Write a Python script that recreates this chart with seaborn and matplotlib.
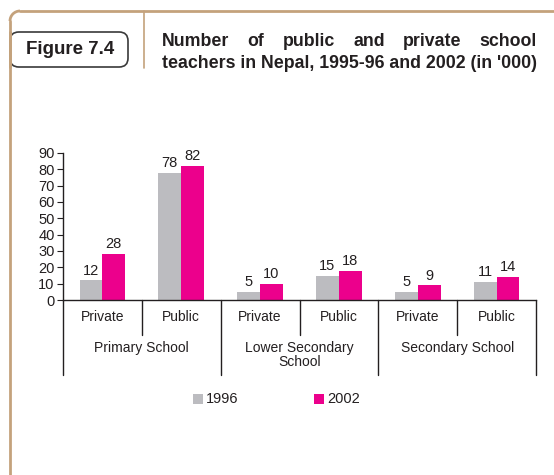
import matplotlib
matplotlib.use("Agg")
import matplotlib.pyplot as plt
from matplotlib.patches import FancyBboxPatch, Rectangle, Arc
from matplotlib.lines import Line2D
from matplotlib import font_manager
import matplotlib.transforms as mtransforms
import seaborn as sns
import pandas as pd

# --- data (teachers, thousands) ---
school_levels = ["Primary School", "Lower Secondary\nSchool", "Secondary School"]
sectors = ["Private", "Public"]
years = ["1996", "2002"]
teachers_1996 = [12, 78, 5, 15, 5, 11]
teachers_2002 = [28, 82, 10, 18, 9, 14]
y_ticks = [0, 10, 20, 30, 40, 50, 60, 70, 80, 90]

categories = [f"{lvl}|{sec}" for lvl in school_levels for sec in sectors]
df = pd.DataFrame({
    "category": categories * 2,
    "year": [years[0]] * 6 + [years[1]] * 6,
    "teachers": teachers_1996 + teachers_2002,
})

GRAY = "#bcbcc0"
PINK = "#ec008c"
TAN = "#c4a27c"
INK = "#231f20"

names = {f.name for f in font_manager.fontManager.ttflist}
NARROW = "Liberation Sans Narrow" if "Liberation Sans Narrow" in names else "Liberation Sans"

sns.set_theme(style="white")
plt.rcParams["font.family"] = [NARROW, "DejaVu Sans"]

W, H = 554, 475
fig = plt.figure(figsize=(W / 100, H / 100), dpi=100)
fig.patch.set_facecolor("white")

def fx(px):
    return px / W

def fy(py):
    return 1 - py / H

# plot area
ax_left, ax_right, ax_top, ax_bottom = 63, 536, 153, 300
ax = fig.add_axes([fx(ax_left), fy(ax_bottom), fx(ax_right - ax_left), (ax_bottom - ax_top) / H])

sns.barplot(data=df, x="category", y="teachers", hue="year", order=categories,
            hue_order=years, palette=[GRAY, PINK], width=0.58, saturation=1,
            edgecolor="none", linewidth=0, ax=ax, legend=False)

ax.set_xlim(-0.5, 5.5)
ax.set_ylim(0, 90)
ax.set_yticks(y_ticks)
ax.set_yticklabels([str(t) for t in y_ticks], fontsize=10.5, color=INK)
ax.set_xticks([])
ax.set_xlabel("")
ax.set_ylabel("")
ax.tick_params(axis="y", direction="out", length=4, width=0.8, color=INK, pad=2, left=True)
for side in ["top", "right"]:
    ax.spines[side].set_visible(False)
for side in ["left", "bottom"]:
    ax.spines[side].set_color(INK)
    ax.spines[side].set_linewidth(1.0)

for cont in ax.containers:
    ax.bar_label(cont, fmt="%d", padding=2, fontsize=10.5, color=INK)

# category axis below the bars
trans = mtransforms.blended_transform_factory(ax.transData, fig.transFigure)
for i, cat in enumerate(categories):
    ax.text(i, fy(317), cat.split("|")[1], transform=trans, ha="center", va="center",
            fontsize=10, color=INK)
for g, lvl in enumerate(school_levels):
    ax.text(2 * g + 0.5, fy(348) if "\n" not in lvl else fy(355), lvl, transform=trans,
            ha="center", va="center", fontsize=10, color=INK, linespacing=0.95)

line_kw = dict(transform=trans, color=INK, linewidth=1.0, clip_on=False)
for xd in [0.5, 2.5, 4.5]:
    ax.add_line(Line2D([xd, xd], [fy(300), fy(335)], **line_kw))
for xd in [-0.5, 1.5, 3.5, 5.5]:
    ax.add_line(Line2D([xd, xd], [fy(300), fy(375)], **line_kw))

# legend
for (px, col, lab) in [(193, GRAY, years[0]), (314, PINK, years[1])]:
    fig.patches.append(Rectangle((fx(px), fy(404)), fx(10), 10 / H, transform=fig.transFigure,
                                 facecolor=col, edgecolor="none"))
    fig.text(fx(px + 13), fy(399), lab, ha="left", va="center", fontsize=10.5, color=INK)

# frame and header
r = 10
fig.add_artist(Line2D([fx(10), fx(10)], [fy(475), fy(11 + r)], transform=fig.transFigure,
                      color=TAN, linewidth=2))
fig.add_artist(Line2D([fx(10 + r), fx(554)], [fy(11), fy(11)], transform=fig.transFigure,
                      color=TAN, linewidth=2))
fig.add_artist(Arc((fx(10 + r), fy(11 + r)), fx(2 * r), 2 * r / H, theta1=90, theta2=180,
                   transform=fig.transFigure, color=TAN, linewidth=2))
fig.add_artist(Line2D([fx(144), fx(144)], [fy(11), fy(68)], transform=fig.transFigure,
                      color=TAN, linewidth=1.2))

fig.add_artist(FancyBboxPatch((fx(10), fy(67)), fx(118), 35 / H,
                              boxstyle="round,pad=0,rounding_size=0.016",
                              transform=fig.transFigure, facecolor="white",
                              edgecolor="#3a3a3a", linewidth=1.2, mutation_aspect=W / H))
fig.add_artist(Line2D([fx(10), fx(10)], [fy(67), fy(32)], transform=fig.transFigure,
                      color=TAN, linewidth=2))
fig.text(fx(26), fy(50), "Figure 7.4", ha="left", va="center", fontsize=13.5,
         fontweight="bold", color=INK)

# title: first line justified between the left and right margins
title_left, title_right = 162, 537
title_kw = dict(ha="left", va="center", fontsize=12.8, fontweight="bold", color=INK)
words = "Number of public and private school".split()
renderer = fig.canvas.get_renderer()
probe = [fig.text(0, 0, w, **title_kw) for w in words]
widths = [t.get_window_extent(renderer).width for t in probe]
for t in probe:
    t.remove()
gap = (title_right - title_left - sum(widths)) / (len(words) - 1)
px = title_left
for w, wd in zip(words, widths):
    fig.text(fx(px), fy(41), w, **title_kw)
    px += wd + gap
fig.text(fx(title_left), fy(63), "teachers in Nepal, 1995-96 and 2002 (in '000)", **title_kw)

fig.savefig("out.png", dpi=100, facecolor="white")
